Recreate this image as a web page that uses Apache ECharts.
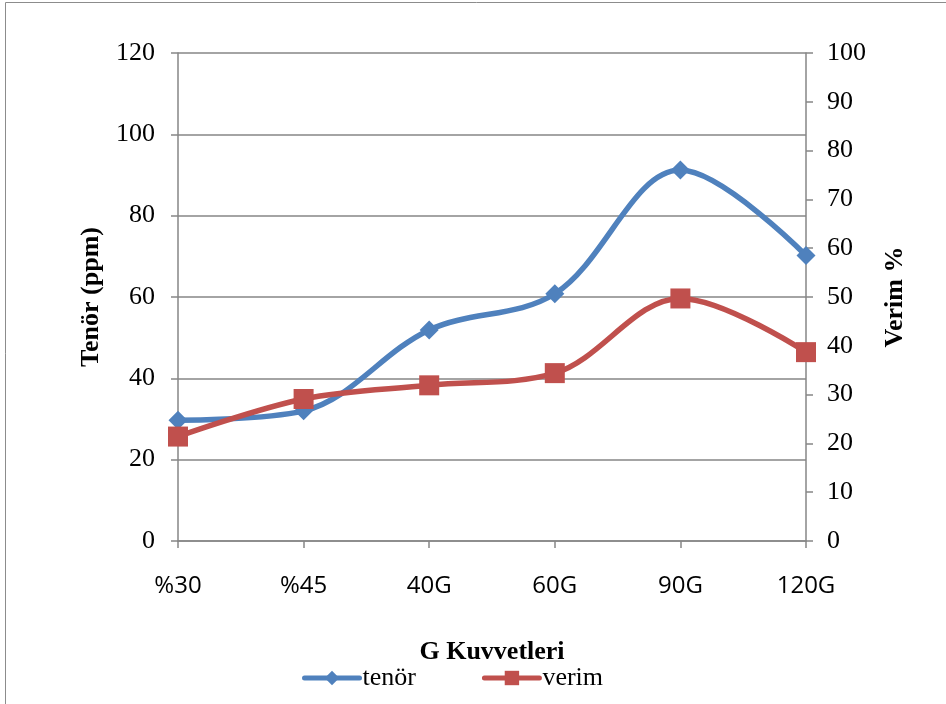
<!DOCTYPE html>
<html>
<head>
<meta charset="utf-8">
<script src="https://cdn.jsdelivr.net/npm/echarts@6/dist/echarts.min.js"></script>
<style>html,body{margin:0;padding:0;background:#fff}#c{width:946px;height:704px}</style>
</head>
<body>
<div id="c"></div>
<script>
var categories = ['%30', '%45', '40G', '60G', '90G', '120G'];
var tenor = [29.7, 32.0, 51.9, 60.8, 91.2, 70.2];
var verim = [21.4, 29.1, 31.9, 34.4, 49.7, 38.7];
var leftTicks = {min: 0, max: 120, interval: 20};
var rightTicks = {min: 0, max: 100, interval: 10};

var serif = '"Liberation Serif", "Times New Roman", serif';
var sans = '"Open Sans", "Liberation Sans", sans-serif';
var gray = '#868686';
var chart = echarts.init(document.getElementById('c'));
chart.setOption({
  animation: false,
  graphic: [{
    type: 'rect', shape: {x: 5.5, y: 2.5, width: 960, height: 720},
    style: {fill: 'none', stroke: '#8c8c8c', lineWidth: 1}, silent: true
  }],
  grid: {left: 178, right: 140, top: 53, bottom: 163},
  legend: {
    left: 297, top: 660, itemGap: 66, itemWidth: 55, itemHeight: 18,
    lineStyle: {width: 5, cap: 'round'},
    textStyle: {fontFamily: serif, fontSize: 26, color: '#000', padding: [0,0,0,-2]},
    data: ['tenör', 'verim']
  },
  xAxis: {
    type: 'category', data: categories, boundaryGap: false,
    name: 'G Kuvvetleri', nameLocation: 'middle', nameGap: 98,
    nameTextStyle: {fontFamily: serif, fontSize: 26, fontWeight: 'bold', color: '#000'},
    axisLine: {lineStyle: {color: gray, width: 1.5}},
    axisTick: {show: true, length: 7, alignWithLabel: true, lineStyle: {color: gray, width: 1.5}},
    axisLabel: {fontFamily: sans, fontSize: 24, color: '#000', margin: 33},
    splitLine: {show: false}
  },
  yAxis: [{
    type: 'value', min: leftTicks.min, max: leftTicks.max, interval: leftTicks.interval,
    name: 'Tenör (ppm)', nameLocation: 'middle', nameGap: 74, nameRotate: 90,
    nameTextStyle: {fontFamily: serif, fontSize: 26, fontWeight: 'bold', color: '#000'},
    axisLine: {show: true, lineStyle: {color: gray, width: 1.5}},
    axisTick: {show: true, length: 7, lineStyle: {color: gray, width: 1.5}},
    axisLabel: {fontFamily: serif, fontSize: 26, color: '#000', margin: 23},
    splitLine: {show: true, lineStyle: {color: gray, width: 1.5}}
  }, {
    type: 'value', position: 'right', min: rightTicks.min, max: rightTicks.max, interval: rightTicks.interval,
    name: 'Verim %', nameLocation: 'middle', nameGap: 76, nameRotate: 90,
    nameTextStyle: {fontFamily: serif, fontSize: 26, fontWeight: 'bold', color: '#000'},
    axisLine: {show: true, lineStyle: {color: gray, width: 1.5}},
    axisTick: {show: true, length: 7, lineStyle: {color: gray, width: 1.5}},
    axisLabel: {fontFamily: serif, fontSize: 26, color: '#000', margin: 21},
    splitLine: {show: false}
  }],
  series: [{
    name: 'tenör', type: 'line', yAxisIndex: 0, data: tenor, smooth: 0.35,
    symbol: 'diamond', symbolSize: 19,
    lineStyle: {color: '#4F81BD', width: 5.5},
    itemStyle: {color: '#4F81BD'}, z: 2
  }, {
    name: 'verim', type: 'line', yAxisIndex: 1, data: verim, smooth: 0.35,
    symbol: 'rect', symbolSize: 20,
    lineStyle: {color: '#C0504D', width: 5.5},
    itemStyle: {color: '#C0504D'}, z: 3
  }]
});
</script>
</body>
</html>
